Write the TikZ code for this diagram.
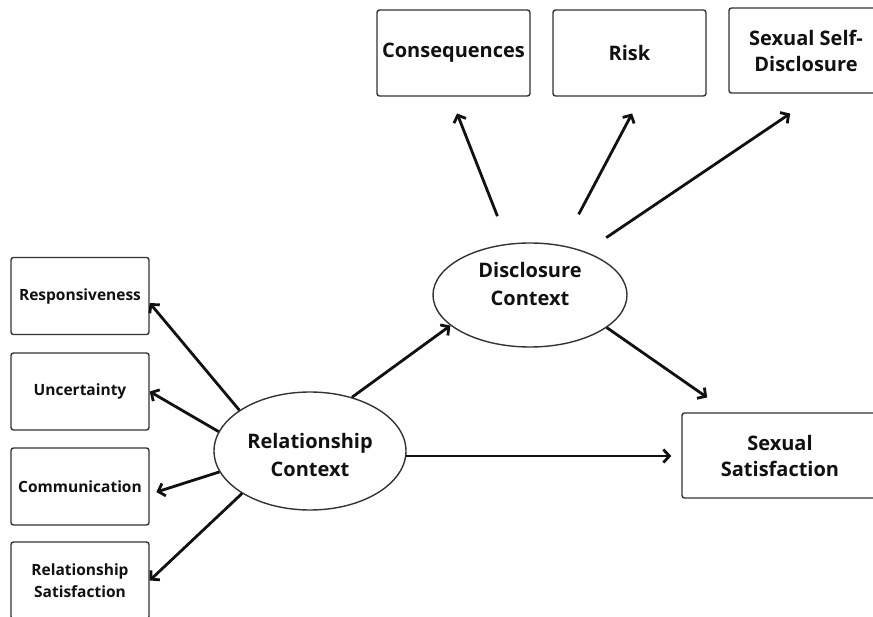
\documentclass[tikz,border=0pt]{standalone}
\usepackage{fontspec}
\setmainfont{Open Sans}
\usetikzlibrary{arrows.meta,shapes.geometric}

\definecolor{ink}{HTML}{111111}
\definecolor{edge}{HTML}{333333}

\begin{document}
\begin{tikzpicture}[x=1pt,y=-1pt,
  box/.style={draw=edge, line width=1.4pt, rounded corners=2.5pt, fill=white,
    align=center, inner sep=0pt, text=ink,
    font=\bfseries\fontsize{20}{26}\selectfont},
  smallbox/.style={box, minimum width=138pt, minimum height=77pt,
    font=\bfseries\fontsize{15.5}{22}\selectfont},
  oval/.style={ellipse, draw=edge, line width=1.4pt, fill=white, inner sep=0pt},
  ovaltext/.style={align=center, inner sep=0pt, text=ink,
    font=\bfseries\fontsize{20}{28}\selectfont},
  arr/.style={draw=ink, line width=2.8pt,
    -{Straight Barb[length=6pt,width=13pt]}}]

\useasboundingbox (0,0) rectangle (873,617);
\clip (0,0) rectangle (873,617);

% indicator boxes of the disclosure context
\node[box, minimum width=153pt, minimum height=86pt] (cons) at (453.5,53) {Consequences};
\node[box, minimum width=153pt, minimum height=86pt] (risk) at (629.5,53) {Risk};
\node[box, minimum width=154pt, minimum height=85pt] (sdis) at (806,50.5) {Sexual Self-\\Disclosure};

% indicator boxes of the relationship context
\node[smallbox] (resp) at (80,296)   {Responsiveness};
\node[smallbox] (unc)  at (80,391.5) {Uncertainty};
\node[smallbox] (comm) at (80,486.5) {Communication};
\node[smallbox] (rs)   at (80,580.5) {Relationship\\Satisfaction};

% outcome
\node[box, minimum width=196pt, minimum height=85pt] (sat) at (780,455.5) {Sexual\\Satisfaction};

% latent constructs
\node[oval, minimum width=192pt, minimum height=118pt] (rel) at (310,451) {};
\node[ovaltext] (reltext) at (310,455) {Relationship\\Context};
\node[oval, minimum width=194pt, minimum height=104pt] (disc) at (530,295) {};
\node[ovaltext] (disctext) at (530,284) {Disclosure\\Context};

% paths from the relationship context
\draw[arr] (rel.150.7) -- ([yshift=-7pt]resp.east);
\draw[arr] (rel.168.9) -- (unc.east);
\draw[arr, shorten >=7pt] (rel.193.2) -- ([yshift=-7.7pt]comm.east);
\draw[arr] (rel.212.8) -- (rs.east);
\draw[arr] (rel.52.8) -- (disc.201.1);
\draw[arr, shorten >=10pt] (rel.-3) -- (rel.-3 -| sat.west);

% paths from the disclosure context
\draw[arr, shorten <=29.5pt, shorten >=18pt] (disc.113.9) -- ([xshift=-3pt]cons.south);
\draw[arr, shorten <=35pt, shorten >=19pt] (disc.57.2) -- ([xshift=11.5pt]risk.south);
\draw[arr, shorten <=25pt, shorten >=35.5pt] (disc.38.3) -- ([xshift=13.6pt]sdis.south);
\draw[arr, shorten >=26pt] (disc.-23.1) -- ([xshift=-51.5pt]sat.north);

\end{tikzpicture}
\end{document}
